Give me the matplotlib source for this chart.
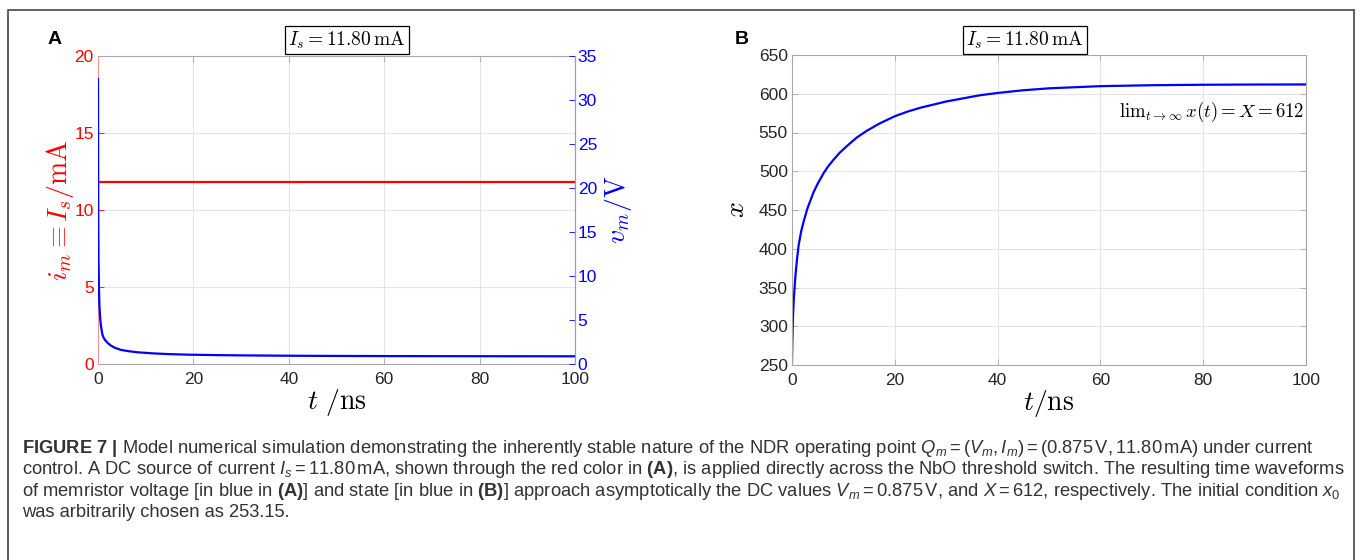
import matplotlib
matplotlib.use("Agg")
import matplotlib.pyplot as plt
from matplotlib.patches import Rectangle

# data
I_s = 11.80
t_v = [0, 0.02, 0.05, 0.1, 0.2, 0.3, 0.45, 0.6, 0.9, 1.2, 1.6, 2.1, 2.7, 3.5, 4.8, 6.5, 8.3,
       11.8, 15, 19, 25, 30, 40, 50, 60, 80, 100]
v_m = [32.4, 24, 17, 12, 8.5, 6.6, 5.3, 4.4, 3.4, 2.95, 2.65, 2.35, 2.1, 1.85, 1.6, 1.45, 1.33,
       1.2, 1.12, 1.06, 1.01, 0.98, 0.94, 0.915, 0.9, 0.885, 0.875]
t_x = [0, 0.05, 0.1, 0.2, 0.35, 0.65, 1, 1.3, 1.8, 2.3, 3, 4.2, 5, 6.1, 7, 8.1, 9.3, 10.6,
       12.5, 14.5, 17, 20, 22.5, 25, 30, 36.5, 40, 45, 50, 60, 70, 80, 90, 100]
x_state = [253.15, 275, 290, 313, 335, 364, 388, 405, 423, 436, 452, 473, 484, 497, 506, 515,
           524, 532, 543, 552, 561.5, 571, 577, 582, 590, 598, 601, 604.5, 607, 609.8, 611, 611.6,
           611.9, 612]
t_ticks = [0, 20, 40, 60, 80, 100]
i_ticks = [0, 5, 10, 15, 20]
v_ticks = [0, 5, 10, 15, 20, 25, 30, 35]
x_ticks = [250, 300, 350, 400, 450, 500, 550, 600, 650]

plt.rcParams["font.family"] = ["Liberation Sans", "DejaVu Sans"]
plt.rcParams["mathtext.fontset"] = "custom"
plt.rcParams["mathtext.rm"] = "Liberation Sans"
plt.rcParams["mathtext.it"] = "Liberation Sans:italic"
plt.rcParams["mathtext.bf"] = "Liberation Sans:bold"

W, H = 1362, 560
fig = plt.figure(figsize=(W / 100, H / 100), dpi=100)

grid_c = "#e4e4e4"
spine_c = "#a8a8a8"


def style_axes(ax):
    ax.tick_params(direction="in", length=4, width=0.6, color=spine_c, labelsize=12.5,
                   top=True, labelcolor="#262626", pad=3)
    ax.tick_params(axis="x", pad=6)
    ax.grid(True, color=grid_c, linewidth=0.8)
    for s in ax.spines.values():
        s.set_color(spine_c)
        s.set_linewidth(0.8)


# panel A
axA = fig.add_axes([98 / W, 1 - 364 / H, 477 / W, 308 / H])
style_axes(axA)
axA.plot([0, 100], [I_s, I_s], color="#ff0000", linewidth=1.6)
axA.set_xlim(0, 100)
axA.set_ylim(0, 20)
axA.set_xticks(t_ticks)
axA.set_yticks(i_ticks)
axA.tick_params(axis="y", colors="#ff0000", labelcolor="#ff0000", right=False)
axA.spines["left"].set_color("#ff9090")
axA.set_xlabel(r"$t\ /\mathrm{ns}$", fontsize=20, math_fontfamily="cm", labelpad=0)
axA.set_ylabel(r"$i_m \equiv I_s/\mathrm{mA}$", fontsize=20, color="#ff0000",
               math_fontfamily="cm", labelpad=-1)

axA2 = axA.twinx()
axA2.plot(t_v, v_m, color="#0000ff", linewidth=1.6)
axA2.set_ylim(0, 35)
axA2.set_yticks(v_ticks)
axA2.tick_params(axis="y", direction="in", length=4, width=0.6, colors="#0000ff",
                 labelcolor="#0000ff", labelsize=12.5, pad=2)
for s in axA2.spines.values():
    s.set_visible(False)
axA2.spines["right"].set_visible(True)
axA2.spines["right"].set_color("#9090ff")
axA2.set_ylabel(r"$v_m/\mathrm{V}$", fontsize=20, color="#0000ff", math_fontfamily="cm",
                labelpad=4)

# panel B
axB = fig.add_axes([792 / W, 1 - 365 / H, 514 / W, 310 / H])
style_axes(axB)
axB.tick_params(right=True)
axB.plot(t_x, x_state, color="#0000ff", linewidth=1.6)
axB.set_xlim(0, 100)
axB.set_ylim(250, 650)
axB.set_xticks(t_ticks)
axB.set_yticks(x_ticks)
axB.set_xlabel(r"$t/\mathrm{ns}$", fontsize=20, math_fontfamily="cm", labelpad=0)
axB.set_ylabel(r"$x$", fontsize=20, math_fontfamily="cm", labelpad=6)
axB.text(99.6, 576, r"$\mathrm{lim}_{t\to\infty}\, x(t) = X = 612$", fontsize=13.5,
         math_fontfamily="cm", ha="right", va="center")

# boxed titles and panel letters
box = dict(boxstyle="square,pad=0.15", facecolor="white", edgecolor="black", linewidth=0.9)
fig.text(347 / W, 1 - 40 / H, r"$I_s = 11.80\,\mathrm{mA}$", fontsize=14, math_fontfamily="cm",
         ha="center", va="center", bbox=box)
fig.text(1025 / W, 1 - 40 / H, r"$I_s = 11.80\,\mathrm{mA}$", fontsize=14, math_fontfamily="cm",
         ha="center", va="center", bbox=box)
fig.text(48 / W, 1 - 40 / H, "A", fontsize=14, fontweight="bold", ha="left", va="center")
fig.text(735 / W, 1 - 40 / H, "B", fontsize=14, fontweight="bold", ha="left", va="center")

# caption
cap = [
    r"$\mathbf{FIGURE\ 7\ |}$ Model numerical simulation demonstrating the inherently stable nature "
    r"of the NDR operating point $Q_m = (V_m, I_m) = (0.875\,\mathrm{V}, 11.80\,\mathrm{mA})$ under current",
    r"control. A DC source of current $I_s = 11.80\,\mathrm{mA}$, shown through the red color in "
    r"$\mathbf{(A)}$, is applied directly across the NbO threshold switch. The resulting time waveforms",
    r"of memristor voltage [in blue in $\mathbf{(A)}$] and state [in blue in $\mathbf{(B)}$] approach "
    r"asymptotically the DC values $V_m = 0.875\,\mathrm{V}$, and $X = 612$, respectively. The initial condition $x_0$",
    "was arbitrarily chosen as 253.15.",
]
cap_y = [453, 474, 496, 517]
for line, yy in zip(cap, cap_y):
    fig.text(22 / W, 1 - yy / H, line, fontsize=13.2, color="#333333", ha="left", va="baseline")

# outer frame
fig.patches.append(Rectangle((8 / W, -0.05), 1346 / W, 1 - 10 / H + 0.05, transform=fig.transFigure,
                             fill=False, edgecolor="#444444", linewidth=1.2))

fig.savefig("out.png", dpi=100)
